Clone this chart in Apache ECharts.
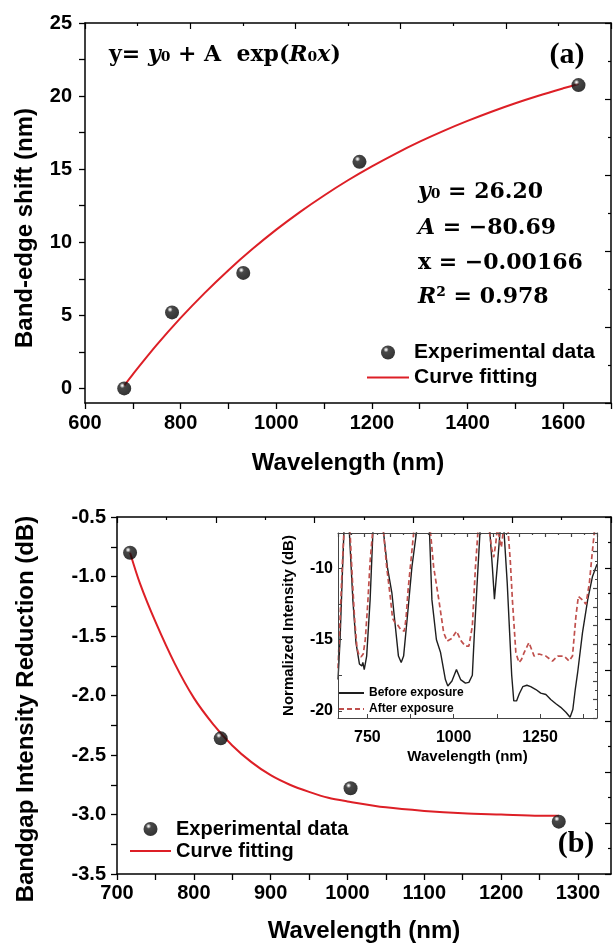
<!DOCTYPE html>
<html><head><meta charset="utf-8">
<script src="https://cdn.jsdelivr.net/npm/echarts@6/dist/echarts.min.js"></script>
<style>html,body{margin:0;padding:0;background:#fff}#c{width:613px;height:948px}</style>
</head><body><div id="c"></div>
<script>
// ---------- Panel (a) data ----------
const shiftWavelength = [682, 782, 931, 1174, 1632];
const shiftValue = [0, 5.2, 7.9, 15.5, 20.75];
const fitShiftWavelength = [682, 700, 750, 800, 850, 900, 950, 1000, 1050, 1100, 1150, 1200, 1250, 1300, 1350, 1400, 1450, 1500, 1550, 1600, 1632];
const fitShiftValue = [0.19, 0.96, 2.97, 4.82, 6.52, 8.09, 9.53, 10.86, 12.08, 13.20, 14.24, 15.19, 16.07, 16.88, 17.62, 18.30, 18.93, 19.51, 20.04, 20.53, 20.83];
const shiftXTicks = [600, 800, 1000, 1200, 1400, 1600];
const shiftYTicks = [0, 5, 10, 15, 20, 25];

// ---------- Panel (b) data ----------
const reductionWavelength = [717, 835, 1004, 1275];
const reductionValue = [-0.80, -2.36, -2.78, -3.06];
const fitReductionWavelength = [717, 730, 750, 775, 800, 825, 850, 875, 900, 925, 950, 975, 1000, 1050, 1100, 1150, 1200, 1250, 1275];
const fitReductionValue = [-0.80, -1.06, -1.38, -1.73, -2.02, -2.24, -2.42, -2.56, -2.67, -2.75, -2.81, -2.86, -2.89, -2.94, -2.97, -2.99, -3.00, -3.01, -3.01];
const reductionXTicks = [700, 800, 900, 1000, 1100, 1200, 1300];
const reductionYTicks = [-3.5, -3.0, -2.5, -2.0, -1.5, -1.0, -0.5];

// ---------- Inset data (wavelength nm, normalized intensity dB) ----------
const beforeExposure = [[665,-17.8],[671,-15.0],[677,-10.8],[682,-7.5],[690,-4],[698,-7.5],[708,-12.2],[717,-15.2],[727,-16.7],[734,-16.85],[737,-16.6],[741,-17.1],[748,-16.15],[758,-12.2],[766,-7.5],[775,-4],[797,-7.5],[808,-9.9],[821,-11.7],[831,-14.05],[840,-16.15],[848,-16.6],[855,-16.15],[866,-13.35],[879,-9.9],[892,-7.5],[905,-4],[930,-7.5],[937,-12.2],[950,-15.0],[962,-15.9],[976,-17.8],[983,-18.25],[995,-17.9],[1008,-17.1],[1020,-17.8],[1034,-18.05],[1044,-18.0],[1054,-17.5],[1060,-14.5],[1068,-11.0],[1076,-7.5],[1090,-4],[1105,-7.5],[1112,-9.9],[1118,-12.15],[1126,-9.9],[1134,-7.5],[1140,-5],[1146,-7.5],[1155,-11.0],[1162,-14.5],[1168,-17.5],[1174,-19.3],[1182,-19.3],[1190,-18.8],[1200,-18.3],[1212,-18.2],[1223,-18.3],[1238,-18.5],[1252,-18.75],[1267,-18.85],[1281,-19.2],[1296,-19.5],[1310,-19.75],[1325,-20.1],[1337,-20.45],[1345,-19.9],[1352,-18.5],[1359,-17.3],[1373,-14.5],[1388,-12.2],[1402,-10.55],[1415,-9.7]];
const afterExposure = [[665,-17.0],[671,-13.5],[677,-10.0],[682,-7.5],[690,-4],[700,-7.5],[706,-10.5],[713,-13.5],[720,-15.6],[726,-16.1],[732,-16.2],[738,-16.0],[744,-15.0],[751,-12.5],[758,-9.5],[765,-7.5],[772,-4],[797,-7.5],[806,-9.9],[816,-11.9],[823,-13.5],[830,-13.8],[836,-13.9],[847,-14.3],[857,-14.4],[862,-13.5],[868,-11.5],[876,-9.5],[884,-7.5],[892,-4],[933,-7.5],[942,-9.9],[957,-12.2],[971,-14.5],[981,-15.1],[995,-14.9],[1008,-14.4],[1022,-15.1],[1034,-15.45],[1044,-15.45],[1054,-14.05],[1063,-9.9],[1070,-7.5],[1080,-4],[1098,-5],[1104,-7.5],[1110,-8.6],[1116,-9.2],[1122,-8.2],[1127,-7.0],[1133,-8.0],[1138,-8.5],[1143,-7.5],[1150,-5],[1158,-7.5],[1164,-9.5],[1170,-12.2],[1180,-15.9],[1189,-16.6],[1196,-16.4],[1204,-15.9],[1218,-15.2],[1233,-16.15],[1247,-16.0],[1267,-16.15],[1286,-16.5],[1301,-16.15],[1320,-16.15],[1334,-16.5],[1344,-16.15],[1354,-13.35],[1361,-11.95],[1373,-12.2],[1383,-12.5],[1393,-11.0],[1402,-8.7],[1407,-7.5],[1412,-5]];
const insetXTicks = [750, 1000, 1250];
const insetYTicks = [-20, -15, -10];

// ---------- styles ----------
const sans = "'Liberation Sans', Arial, sans-serif";
const serif = "'DejaVu Serif', 'Liberation Serif', serif";
const fitRed = '#dd1f26';
const afterRed = '#c0504d';
const sphere = {type:'radial', x:0.36, y:0.3, r:0.72, colorStops:[
  {offset:0, color:'#ffffff'}, {offset:0.08, color:'#d0d0d0'}, {offset:0.26, color:'#1a1a1a'}, {offset:1, color:'#000000'}]};
const zip = (a, b) => a.map((v, i) => [v, b[i]]);
const steps = (from, to, step) => { const r = []; for (let v = from; v <= to + 1e-9; v += step) r.push(+v.toFixed(3)); return r; };
const plain = v => String(v);

const lbl = (size, extra) => Object.assign({fontFamily: sans, fontWeight: 'bold', fontSize: size, color: '#000'}, extra || {});
const blackLine = (w) => ({show: true, onZero: false, lineStyle: {color: '#000', width: w}});

function mainAxis(o) {
  return {
    type: 'value', gridIndex: o.grid, position: o.position, min: o.min, max: o.max,
    axisLine: blackLine(1.5),
    axisTick: {show: true, inside: false, length: 6, customValues: o.ticks, lineStyle: {color: '#000', width: 1.3}},
    axisLabel: lbl(20, {margin: o.margin, customValues: o.labels, formatter: o.formatter || plain}),
    splitLine: {show: false},
    name: o.name, nameLocation: 'middle', nameGap: o.nameGap,
    nameTextStyle: lbl(24)
  };
}
function frameAxis(grid, position, max, len, color, width) {
  return {
    type: 'value', gridIndex: grid, position: position, min: 0, max: max, interval: 1,
    axisLine: {show: true, onZero: false, lineStyle: {color: color, width: width}},
    axisTick: {show: true, inside: true, length: len, lineStyle: {color: color, width: 1.2}},
    minorTick: {show: true, splitNumber: 2, length: len / 2, lineStyle: {color: color, width: 1.2}},
    axisLabel: {show: false}, splitLine: {show: false}, minorSplitLine: {show: false}
  };
}
const hideSym = {color: 'rgba(0,0,0,0)', borderWidth: 0, opacity: 0};
const serifRich = {
  n: {fontFamily: serif, fontWeight: 'bold', fontSize: 22, fill: '#000'},
  i: {fontFamily: serif, fontWeight: 'bold', fontStyle: 'italic', fontSize: 22, fill: '#000'}
};

const option = {
  backgroundColor: '#fff',
  animation: false,
  grid: [
    {left: 85, top: 23, width: 526, height: 380},
    {left: 117, top: 517, width: 494, height: 357},
    {left: 338, top: 533, width: 259, height: 185, show: true, backgroundColor: '#fff', borderWidth: 0, z: 10}
  ],
  xAxis: [
    mainAxis({grid: 0, position: 'bottom', min: 600, max: 1700, ticks: steps(600, 1700, 100), labels: shiftXTicks, margin: 10, name: 'Wavelength (nm)', nameGap: 48}),
    frameAxis(0, 'top', 5, 6, '#000', 1.5),
    mainAxis({grid: 1, position: 'bottom', min: 700, max: 1343, ticks: steps(700, 1300, 50), labels: reductionXTicks, margin: 9, name: 'Wavelength (nm)', nameGap: 45}),
    frameAxis(1, 'top', 5, 6, '#000', 1.5),
    {
      type: 'value', gridIndex: 2, position: 'bottom', min: 665, max: 1415, z: 12,
      axisLine: {show: true, onZero: false, lineStyle: {color: '#444', width: 1}},
      axisTick: {show: true, inside: true, length: 4, customValues: [750, 875, 1000, 1125, 1250, 1375], lineStyle: {color: '#444'}},
      axisLabel: lbl(16, {margin: 12, customValues: insetXTicks, formatter: plain}),
      splitLine: {show: false},
      name: 'Wavelength (nm)', nameLocation: 'middle', nameGap: 31, nameTextStyle: lbl(15)
    },
    Object.assign(frameAxis(2, 'top', 10, 4, '#444', 1), {z: 12})
  ],
  yAxis: [
    mainAxis({grid: 0, position: 'left', min: -1, max: 25, ticks: steps(0, 25, 2.5), labels: shiftYTicks, margin: 13}),
    frameAxis(0, 'right', 5, 6, '#000', 1.5),
    mainAxis({grid: 1, position: 'left', min: -3.5, max: -0.5, ticks: steps(-3.5, -0.5, 0.25), labels: reductionYTicks, margin: 11, formatter: v => v.toFixed(1)}),
    frameAxis(1, 'right', 7, 6, '#000', 1.5),
    {
      type: 'value', gridIndex: 2, position: 'left', min: -20.5, max: -7.5, z: 12,
      axisLine: {show: true, onZero: false, lineStyle: {color: '#444', width: 1}},
      axisTick: {show: true, inside: true, length: 4, customValues: [-20, -17.5, -15, -12.5, -10], lineStyle: {color: '#444'}},
      axisLabel: lbl(16, {margin: 5, customValues: insetYTicks, formatter: plain}),
      splitLine: {show: false},
      name: 'Normalized Intensity (dB)', nameLocation: 'middle', nameGap: 42, nameTextStyle: lbl(15)
    },
    Object.assign(frameAxis(2, 'right', 10, 4, '#444', 1), {z: 12})
  ],
  legend: [
    {data: [{name: 'Experimental data'}, {name: 'Curve fitting', itemStyle: hideSym}], left: 366, top: 342, orient: 'vertical', padding: 0,
     itemWidth: 42, itemHeight: 14, itemGap: 4, itemTextGap: 6, selectedMode: false, textStyle: lbl(21)},
    {data: [{name: 'Experimental data'}, {name: 'Curve fitting', itemStyle: hideSym}], left: 129, top: 819, orient: 'vertical', padding: 0,
     itemWidth: 41, itemHeight: 14, itemGap: 2, itemTextGap: 4, selectedMode: false, textStyle: lbl(20)},
    {data: [{name: 'Before exposure', itemStyle: hideSym}, {name: 'After exposure', itemStyle: hideSym}], left: 338, top: 687, orient: 'vertical', padding: 0, z: 20,
     itemWidth: 25, itemHeight: 10, itemGap: 4, itemTextGap: 4, selectedMode: false, textStyle: lbl(12)}
  ],
  series: [
    {type: 'line', name: 'Curve fitting', xAxisIndex: 0, yAxisIndex: 0, data: zip(fitShiftWavelength, fitShiftValue),
     smooth: 0.3, symbol: 'none', lineStyle: {color: fitRed, width: 2}, itemStyle: {color: fitRed}, z: 3},
    {type: 'scatter', name: 'Experimental data', xAxisIndex: 0, yAxisIndex: 0, data: zip(shiftWavelength, shiftValue),
     symbolSize: 14, itemStyle: {color: sphere}, z: 5},
    {type: 'line', name: 'Curve fitting', xAxisIndex: 2, yAxisIndex: 2, data: zip(fitReductionWavelength, fitReductionValue),
     smooth: 0.3, symbol: 'none', lineStyle: {color: fitRed, width: 2}, itemStyle: {color: fitRed}, z: 3},
    {type: 'scatter', name: 'Experimental data', xAxisIndex: 2, yAxisIndex: 2, data: zip(reductionWavelength, reductionValue),
     symbolSize: 14, itemStyle: {color: sphere}, z: 5},
    {type: 'line', name: 'Before exposure', xAxisIndex: 4, yAxisIndex: 4, data: beforeExposure, clip: true,
     symbol: 'none', lineStyle: {color: '#1e1e1e', width: 1.4}, itemStyle: {color: '#1e1e1e'}, z: 11},
    {type: 'line', name: 'After exposure', xAxisIndex: 4, yAxisIndex: 4, data: afterExposure, clip: true,
     symbol: 'none', lineStyle: {color: afterRed, width: 1.7, type: [5, 3]}, itemStyle: {color: afterRed}, z: 11}
  ],
  graphic: [
    {type: 'text', x: 25, y: 228, rotation: Math.PI / 2,
     style: {text: 'Band-edge shift (nm)', textAlign: 'center', textVerticalAlign: 'middle', font: "bold 24px " + sans, fill: '#000'}},
    {type: 'text', x: 26, y: 709, rotation: Math.PI / 2,
     style: {text: 'Bandgap Intensity Reduction (dB)', textAlign: 'center', textVerticalAlign: 'middle', font: "bold 24px " + sans, fill: '#000'}},
    {type: 'text', x: 109, y: 55,
     style: {text: '{n|y= }{i|y}{n|₀ + A  exp(}{i|R}{n|₀}{i|x}{n|)}', textAlign: 'left', textVerticalAlign: 'middle', fill: '#000', rich: serifRich}},
    {type: 'text', x: 567, y: 55,
     style: {text: '(a)', textAlign: 'center', textVerticalAlign: 'middle', font: "bold 30px 'Liberation Serif', serif", fill: '#000'}},
    {type: 'text', x: 576, y: 844,
     style: {text: '(b)', textAlign: 'center', textVerticalAlign: 'middle', font: "bold 30px 'Liberation Serif', serif", fill: '#000'}},
    {type: 'text', x: 418, y: 192, style: {text: '{i|y}{n|₀ = 26.20}', textVerticalAlign: 'middle', rich: serifRich}},
    {type: 'text', x: 418, y: 228, style: {text: '{i|A}{n| = −80.69}', textVerticalAlign: 'middle', rich: serifRich}},
    {type: 'text', x: 418, y: 263, style: {text: '{n|x = −0.00166}', textVerticalAlign: 'middle', rich: serifRich}},
    {type: 'text', x: 418, y: 297, style: {text: '{i|R}{n|² = 0.978}', textVerticalAlign: 'middle', rich: serifRich}}
  ]
};

const chart = echarts.init(document.getElementById('c'), null, {renderer: 'canvas'});
chart.setOption(option);
</script></body></html>
